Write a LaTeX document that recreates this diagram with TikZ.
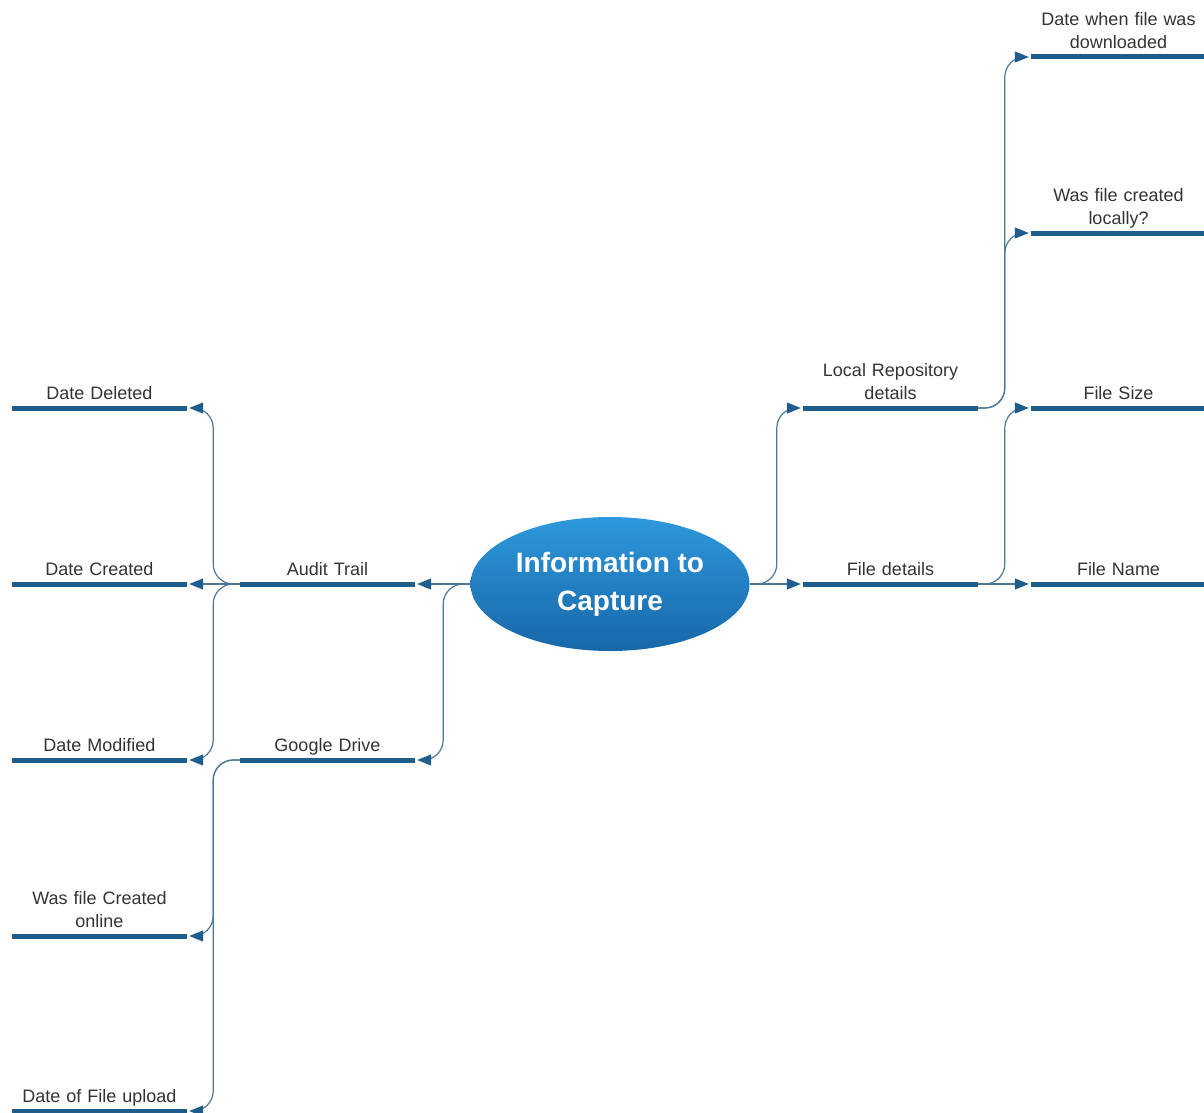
\documentclass[tikz,border=0pt]{standalone}
\usepackage{fontspec}
\setmainfont{Liberation Sans}
\usetikzlibrary{shapes.geometric, arrows.meta}

\definecolor{barblue}{HTML}{1F5E8C}
\definecolor{linkblue}{HTML}{4A7896}
\definecolor{textgray}{HTML}{333333}
\definecolor{topblue}{HTML}{2E98DC}
\definecolor{botblue}{HTML}{1767A8}

\begin{document}
\begin{tikzpicture}[x=1pt, y=-1pt,
	>={Triangle[length=14pt, width=11pt, color=barblue]},
	topic/.style={text width=175pt, align=center, inner xsep=0pt, inner ysep=1.1pt,
		anchor=south, text=textgray, execute at end node={\strut},
		font=\fontsize{18}{23}\selectfont},
	bar/.style={line width=5pt, barblue},
	link/.style={->, line width=1.2pt, linkblue, rounded corners=20pt, shorten >=2pt}]
	\useasboundingbox (0, 0) rectangle (1204, 1113);

	% centre
	\node[ellipse, minimum width=279pt, minimum height=134pt, inner sep=0pt,
		top color=topblue, bottom color=botblue, text=white, align=center,
		font=\bfseries\fontsize{28}{38}\selectfont]
		(root) at (610, 584) {Information to\\Capture};

	% left side
	\node[topic] (at) at (327.5, 584) {Audit Trail};
	\node[topic] (gd) at (327.5, 760) {Google Drive};

	\node[topic] (dd) at (99.5, 408) {Date Deleted};
	\node[topic] (dc) at (99.5, 584) {Date Created};
	\node[topic] (dm) at (99.5, 760) {Date Modified};
	\node[topic] (wo) at (99.5, 936) {Was file Created\\online};
	\node[topic] (du) at (99.5, 1111) {Date of File upload};

	% right side
	\node[topic] (lr) at (890.5, 408) {Local Repository\\details};
	\node[topic] (fd) at (890.5, 584) {File details};

	\node[topic] (dl) at (1118.5, 57) {Date when file was\\downloaded};
	\node[topic] (wl) at (1118.5, 233) {Was file created\\locally?};
	\node[topic] (fs) at (1118.5, 408) {File Size};
	\node[topic] (fn) at (1118.5, 584) {File Name};

	% bars under the labels
	\foreach \n in {at, gd, dd, dc, dm, wo, du, lr, fd, dl, wl, fs, fn}
		\draw[bar] (\n.south west) -- (\n.south east);

	% links from the centre
	\draw[link] (root.west) -- (at.south east);
	\draw[link] (root.west) -| ([xshift=28pt]gd.south east) -- (gd.south east);
	\draw[link] (root.east) -- (fd.south west);
	\draw[link] (root.east) -| ([xshift=-26pt]lr.south west) -- (lr.south west);

	% audit trail
	\draw[link] (at.south west) -| ([xshift=26pt]dd.south east) -- (dd.south east);
	\draw[link] (at.south west) -- (dc.south east);
	\draw[link] (at.south west) -| ([xshift=26pt]dm.south east) -- (dm.south east);

	% google drive
	\draw[link] (gd.south west) -| ([xshift=26pt]wo.south east) -- (wo.south east);
	\draw[link] (gd.south west) -| ([xshift=26pt]du.south east) -- (du.south east);

	% file details
	\draw[link] (fd.south east) -- (fn.south west);
	\draw[link] (fd.south east) -| ([xshift=-26pt]fs.south west) -- (fs.south west);

	% local repository
	\draw[link] (lr.south east) -| ([xshift=-26pt]wl.south west) -- (wl.south west);
	\draw[link] (lr.south east) -| ([xshift=-26pt]dl.south west) -- (dl.south west);
\end{tikzpicture}
\end{document}
